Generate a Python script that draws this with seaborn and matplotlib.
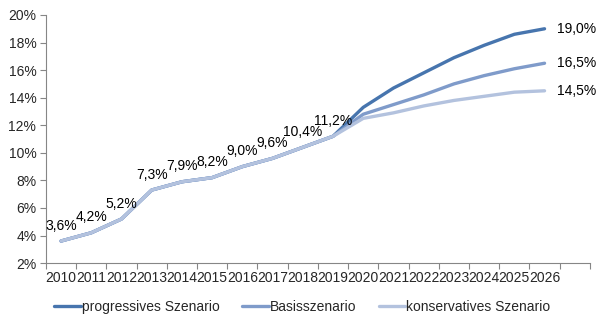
import matplotlib
matplotlib.use("Agg")
import matplotlib.pyplot as plt
import seaborn as sns
import pandas as pd
import numpy as np
from matplotlib.ticker import FixedLocator, FuncFormatter

sns.set_style("white")
plt.rcParams['font.family'] = ['Liberation Sans', 'DejaVu Sans']

years = list(range(2010, 2027))
hist = [3.6, 4.2, 5.2, 7.3, 7.9, 8.2, 9.0, 9.6, 10.4, 11.2]
prog_future = [13.3, 14.7, 15.8, 16.9, 17.8, 18.6, 19.0]
basis_future = [12.8, 13.5, 14.2, 15.0, 15.6, 16.1, 16.5]
kons_future = [12.5, 12.9, 13.4, 13.8, 14.1, 14.4, 14.5]
scenarios = ["progressives Szenario", "Basisszenario", "konservatives Szenario"]
colors = ["#4775AE", "#7F9BCA", "#B3C2DE"]

rows = []
for name, fut in zip(scenarios, [prog_future, basis_future, kons_future]):
    for y, v in zip(years, hist + fut):
        rows.append({"Jahr": y, "Wert": v, "Szenario": name})
df = pd.DataFrame(rows)

fig, ax = plt.subplots(figsize=(6.05, 3.26), dpi=100)
fig.subplots_adjust(left=0.076, right=0.975, top=0.954, bottom=0.193)

sns.lineplot(data=df, x="Jahr", y="Wert", hue="Szenario", hue_order=scenarios,
             palette=colors, linewidth=2.4, ax=ax, legend=True)

ax.set_xlim(2009.5, 2027.5)
ax.set_ylim(2, 20)
ax.set_xlabel("")
ax.set_ylabel("")

ax.xaxis.set_major_locator(FixedLocator(years))
ax.set_xticklabels([str(y) for y in years])
ax.xaxis.set_minor_locator(FixedLocator(np.arange(2009.5, 2028, 1.0)))
ax.tick_params(axis="x", which="major", length=0, labelsize=10, pad=6)
ax.tick_params(axis="x", which="minor", length=4, color="#868686", width=0.8, bottom=True)
ax.set_yticks(np.arange(2, 21, 2))
ax.yaxis.set_major_formatter(FuncFormatter(lambda v, p: f"{int(v)}%"))
ax.tick_params(axis="y", length=4, color="#868686", width=0.8, labelsize=10, left=True, pad=3)

for s in ["top", "right"]:
    ax.spines[s].set_visible(False)
for s in ["left", "bottom"]:
    ax.spines[s].set_color("#868686")
    ax.spines[s].set_linewidth(0.8)

def fmt(v):
    return f"{v:.1f}%".replace(".", ",")

for y, v in zip(years[:len(hist)], hist):
    ax.annotate(fmt(v), (y, v), xytext=(0, 6), textcoords="offset points",
                ha="center", va="bottom", fontsize=10, color="black")

for fut in [prog_future, basis_future, kons_future]:
    ax.annotate(fmt(fut[-1]), (years[-1], fut[-1]), xytext=(9, 0), textcoords="offset points",
                ha="left", va="center", fontsize=10, color="black")

handles, labels = ax.get_legend_handles_labels()
ax.get_legend().remove()
fig.legend(handles, labels, loc="center", bbox_to_anchor=(0.5, 0.058), ncol=3,
           frameon=False, fontsize=10, handlelength=1.9, handletextpad=0.1,
           columnspacing=1.6)

fig.savefig("out.png", dpi=100)
